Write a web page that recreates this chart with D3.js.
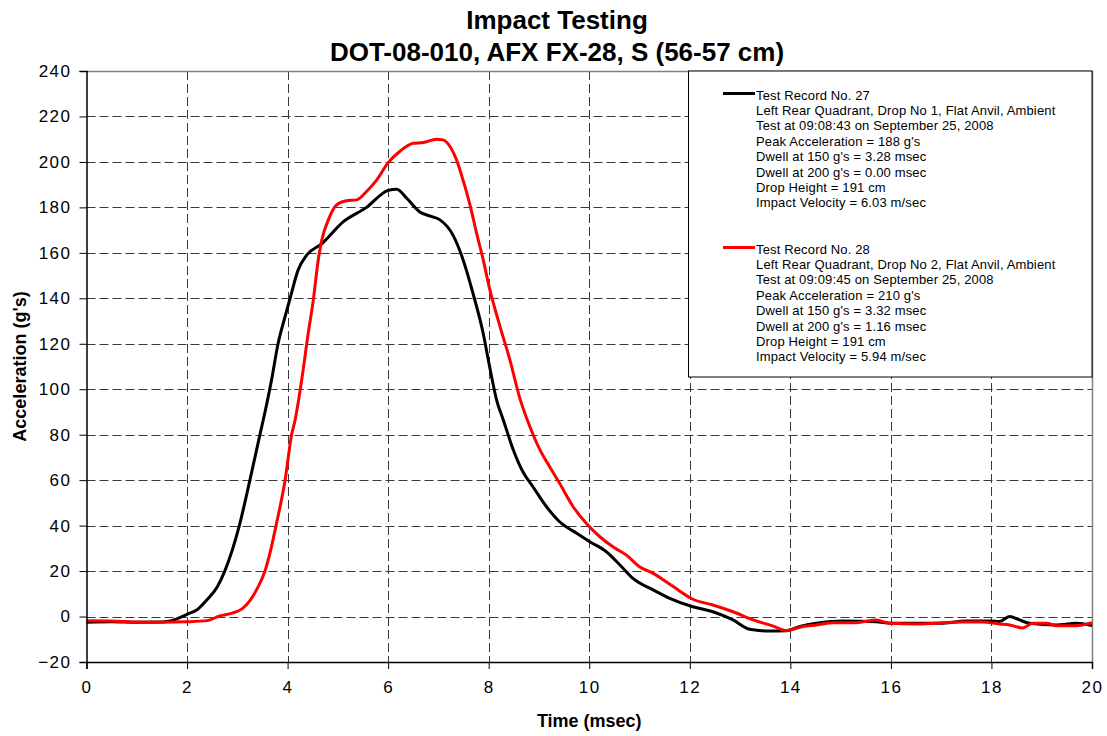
<!DOCTYPE html>
<html>
<head>
<meta charset="utf-8">
<script src="https://cdn.jsdelivr.net/npm/d3@7"></script>
<style>
  html, body { margin: 0; padding: 0; background: #fff; }
  svg { display: block; font-family: "Liberation Sans", Arial, sans-serif; }
</style>
</head>
<body>
<svg id="chart" width="1107" height="736"></svg>
<script>
const titleLines = ["Impact Testing", "DOT-08-010, AFX FX-28, S (56-57 cm)"];
const xLabel = "Time (msec)";
const yLabel = "Acceleration (g's)";
const xTicks = [0, 2, 4, 6, 8, 10, 12, 14, 16, 18, 20];
const yTicks = [-20, 0, 20, 40, 60, 80, 100, 120, 140, 160, 180, 200, 220, 240];

// Test Record No. 27 (black)
const time27 = [0, 0.5, 1.0, 1.5, 1.6, 1.8, 2.0, 2.2, 2.4, 2.6, 2.75, 3.04, 3.25, 3.45, 3.58, 3.68, 3.81, 3.95, 4.05, 4.21, 4.38, 4.68, 5.11, 5.57, 6.0, 6.17, 6.37, 6.63, 6.86, 7.03, 7.29, 7.49, 7.69, 7.89, 8.0, 8.16, 8.29, 8.49, 8.68, 8.88, 9.15, 9.41, 9.75, 10.01, 10.34, 10.61, 10.87, 11.27, 11.6, 12.06, 12.46, 12.86, 13.19, 13.59, 13.92, 14.19, 14.52, 15.05, 15.71, 16.0, 16.97, 17.5, 17.96, 18.16, 18.36, 18.56, 18.76, 19.29, 19.68, 20];
const accel27 = [-2.5, -2.3, -2.5, -2.4, -2.2, -1, 1, 3, 7.5, 13, 20, 40, 60, 80, 93, 104, 120, 132, 140, 152.5, 159, 164, 173.7, 180, 187.5, 188, 184, 178, 176, 174.5, 167.8, 157, 142, 124.6, 112, 95, 86.5, 73.3, 63.7, 57.1, 48.3, 41.7, 36.6, 32.9, 28.5, 22.7, 16.8, 11.7, 8, 4.3, 2.1, -1.5, -5.6, -6.4, -6.2, -4.4, -3, -2, -2.3, -3, -3, -2, -2, -2.2, 0, -1.5, -3, -3.7, -3, -4];

// Test Record No. 28 (red)
const time28 = [0, 0.5, 1.0, 1.5, 2.0, 2.4, 2.65, 2.9, 3.1, 3.25, 3.4, 3.55, 3.65, 3.77, 3.95, 4.08, 4.15, 4.28, 4.41, 4.51, 4.61, 4.68, 4.81, 4.97, 5.17, 5.37, 5.57, 5.77, 6.0, 6.23, 6.5, 6.7, 6.96, 7.09, 7.23, 7.36, 7.49, 7.62, 7.76, 7.89, 8.02, 8.22, 8.42, 8.62, 8.82, 9.02, 9.21, 9.41, 9.68, 9.94, 10.21, 10.47, 10.74, 11.0, 11.27, 11.53, 11.77, 12.06, 12.46, 12.86, 13.26, 13.66, 13.92, 14.25, 14.52, 14.85, 15.31, 15.71, 15.97, 16.5, 17.43, 17.83, 18.16, 18.36, 18.62, 18.82, 19.1, 19.29, 19.68, 20];
const accel28 = [-1.8, -2, -2.4, -2.5, -2.3, -1.8, 0.3, 1.5, 3.5, 7, 12.5, 20, 28, 40, 60, 80, 86.5, 104, 124.6, 139, 157, 165.6, 174.5, 181, 182.9, 183.3, 187, 192, 199.7, 204.6, 208.2, 208.5, 210, 209.7, 206.8, 200.9, 192, 181.8, 168.6, 157, 144, 128, 113, 96, 83.5, 73.3, 66, 58.6, 48.3, 41, 35.1, 30.7, 27, 21.9, 19, 15.3, 11.7, 7.6, 5.1, 2.1, -1.5, -4.2, -6.2, -4.4, -3.7, -2.7, -2.7, -1.5, -3, -3.3, -2.4, -2.4, -3.3, -3.7, -5, -3, -3, -4, -4, -2.7];

const legend27 = ["Test Record No. 27", "Left Rear Quadrant, Drop No 1, Flat Anvil, Ambient", "Test at 09:08:43 on September 25, 2008", "Peak Acceleration = 188 g's", "Dwell at 150 g's = 3.28 msec", "Dwell at 200 g's = 0.00 msec", "Drop Height = 191 cm", "Impact Velocity = 6.03 m/sec"];
const legend28 = ["Test Record No. 28", "Left Rear Quadrant, Drop No 2, Flat Anvil, Ambient", "Test at 09:09:45 on September 25, 2008", "Peak Acceleration = 210 g's", "Dwell at 150 g's = 3.32 msec", "Dwell at 200 g's = 1.16 msec", "Drop Height = 191 cm", "Impact Velocity = 5.94 m/sec"];

const series = [
  {name: "27", t: time27, a: accel27, color: "#000000", legend: legend27},
  {name: "28", t: time28, a: accel28, color: "#ff0000", legend: legend28}
];

const svg = d3.select("#chart");
const margin = {left: 86.5, top: 71, right: 15, bottom: 74};
const W = 1107, H = 736;
const x = d3.scaleLinear().domain([0, 20]).range([margin.left, W - margin.right]);
const y = d3.scaleLinear().domain([-20, 240]).range([H - margin.bottom, margin.top]);

// Title
svg.append("g").selectAll("text").data(titleLines).join("text")
  .attr("x", 557).attr("y", (d, i) => 29 + i * 32)
  .attr("text-anchor", "middle")
  .attr("font-weight", "bold").attr("font-size", 26)
  .text(d => d);

// Grid
const grid = svg.append("g").attr("stroke", "#3a3a3a").attr("stroke-width", 1).attr("stroke-dasharray", "9,4");
grid.selectAll("line.v").data(xTicks.filter(d => d > 0 && d < 20)).join("line")
  .attr("x1", d => Math.round(x(d)) + 0.5).attr("x2", d => Math.round(x(d)) + 0.5)
  .attr("y1", y(240)).attr("y2", y(-20));
grid.selectAll("line.h").data(yTicks.filter(d => d > -20 && d < 240)).join("line")
  .attr("y1", d => Math.round(y(d)) + 0.5).attr("y2", d => Math.round(y(d)) + 0.5)
  .attr("x1", x(0)).attr("x2", x(20));

// Frame top/right
svg.append("path")
  .attr("d", `M${x(0)},${y(240)+0.5}H${x(20)+0.5}V${y(-20)}`)
  .attr("fill", "none").attr("stroke", "#808080").attr("stroke-width", 1.5);

// Lines
const line = d3.line().x(d => x(d[0])).y(d => y(d[1])).curve(d3.curveMonotoneX);
series.forEach(s => {
  svg.append("path")
    .datum(s.t.map((t, i) => [t, s.a[i]]))
    .attr("fill", "none").attr("stroke", s.color).attr("stroke-width", 3)
    .attr("stroke-linejoin", "round")
    .attr("d", line);
});

// Axes
const xAxis = svg.append("g").attr("transform", `translate(0,${y(-20)})`)
  .call(d3.axisBottom(x).tickValues(xTicks).tickSize(7).tickPadding(12).tickFormat(d3.format("d")));
const yAxis = svg.append("g").attr("transform", `translate(${x(0)},0)`)
  .call(d3.axisLeft(y).tickValues(yTicks).tickSize(7).tickPadding(8).tickFormat(d3.format("d")));
[xAxis, yAxis].forEach(g => {
  g.select(".domain").attr("stroke", "#000").attr("stroke-width", 1.5);
  g.selectAll(".tick line").attr("stroke", "#000");
  g.selectAll(".tick text").attr("font-size", 17).attr("fill", "#000")
    .attr("font-family", "'Liberation Sans', Arial, sans-serif").style("letter-spacing", "1.5px");
});

// Axis labels
svg.append("text").attr("x", x(10)).attr("y", 727).attr("text-anchor", "middle")
  .attr("font-weight", "bold").attr("font-size", 18).text(xLabel);
svg.append("text").attr("transform", `translate(26,${(y(240)+y(-20))/2}) rotate(-90)`)
  .attr("text-anchor", "middle").attr("font-weight", "bold").attr("font-size", 18).text(yLabel);

// Legend
const lg = svg.append("g");
lg.append("rect").attr("x", 688.5).attr("y", y(240)).attr("width", x(20) - 688.5).attr("height", 377 - y(240))
  .attr("fill", "#fff").attr("stroke", "#000").attr("stroke-width", 1);
series.forEach((s, si) => {
  const base = 99.5 + si * 154;
  lg.append("line").attr("x1", 723).attr("x2", 755).attr("y1", base - 6).attr("y2", base - 6)
    .attr("stroke", s.color).attr("stroke-width", 3);
  lg.selectAll(null).data(s.legend).join("text")
    .attr("x", 756).attr("y", (d, i) => base + i * 15.4)
    .attr("font-size", 13).attr("fill", "#000").style("letter-spacing", "0.15px").text(d => d);
});
</script>
</body>
</html>
